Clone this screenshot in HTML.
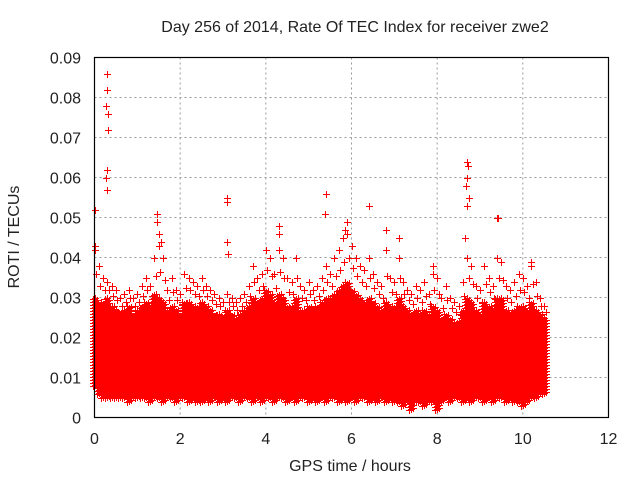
<!DOCTYPE html>
<html><head><meta charset="utf-8"><style>
body{margin:0;background:#fff}
svg text{font-family:"Liberation Sans",sans-serif;fill:#222}
</style></head><body>
<svg id="chart" width="640" height="480" viewBox="0 0 640 480" xmlns="http://www.w3.org/2000/svg">
<rect width="640" height="480" fill="#fff"/>
<text x="355" y="32" font-size="16" text-anchor="middle">Day 256 of 2014, Rate Of TEC Index for receiver zwe2</text>
<g id="grid"></g>
<g id="marks"></g>
<rect x="94.5" y="57.5" width="514" height="360" fill="none" stroke="#000" stroke-width="1.2"/>
<g id="ticks"></g>
<text x="350" y="471" font-size="16" text-anchor="middle">GPS time / hours</text>
<text transform="translate(19,237) rotate(-90)" font-size="16" text-anchor="middle">ROTI / TECUs</text>
</svg>
<script>
const xTicks=[0,2,4,6,8,10,12];
const yTicks=[0,0.01,0.02,0.03,0.04,0.05,0.06,0.07,0.08,0.09];
const yTickLabels=["0","0.01","0.02","0.03","0.04","0.05","0.06","0.07","0.08","0.09"];
const binTimes=[];for(let i=0;i<=105;i++)binTimes.push(i/10);
const denseHi=[0.030,0.028,0.029,0.030,0.028,0.027,0.026,0.027,0.028,0.026,0.027,0.028,0.029,0.028,0.031,0.030,0.029,0.027,0.028,0.027,0.026,0.029,0.029,0.028,0.028,0.029,0.028,0.027,0.026,0.026,0.025,0.027,0.026,0.025,0.026,0.027,0.028,0.030,0.029,0.030,0.032,0.031,0.029,0.031,0.030,0.028,0.028,0.030,0.027,0.027,0.028,0.027,0.028,0.029,0.030,0.030,0.031,0.032,0.033,0.034,0.032,0.031,0.030,0.029,0.030,0.029,0.028,0.027,0.029,0.028,0.028,0.030,0.028,0.027,0.026,0.027,0.026,0.027,0.026,0.028,0.027,0.025,0.026,0.025,0.024,0.024,0.027,0.030,0.029,0.027,0.026,0.029,0.028,0.027,0.030,0.030,0.027,0.026,0.027,0.028,0.028,0.027,0.029,0.027,0.026,0.025];
const sparseHi=[0.042,0.038,0.035,0.034,0.033,0.032,0.030,0.031,0.032,0.030,0.031,0.033,0.035,0.033,0.040,0.043,0.040,0.032,0.035,0.032,0.031,0.036,0.035,0.034,0.033,0.035,0.033,0.032,0.031,0.030,0.029,0.031,0.030,0.029,0.030,0.031,0.033,0.038,0.035,0.036,0.042,0.040,0.036,0.042,0.040,0.035,0.034,0.040,0.033,0.032,0.034,0.032,0.033,0.035,0.038,0.036,0.040,0.042,0.045,0.046,0.043,0.040,0.038,0.037,0.040,0.036,0.034,0.033,0.042,0.035,0.034,0.040,0.034,0.032,0.031,0.033,0.032,0.034,0.031,0.036,0.035,0.030,0.033,0.030,0.029,0.028,0.034,0.040,0.038,0.033,0.032,0.038,0.035,0.033,0.040,0.039,0.033,0.032,0.034,0.036,0.035,0.033,0.038,0.034,0.030,0.028];
const denseLo=[0.008,0.006,0.005,0.005,0.005,0.005,0.005,0.005,0.004,0.005,0.005,0.005,0.005,0.004,0.005,0.005,0.004,0.005,0.005,0.004,0.005,0.005,0.004,0.005,0.004,0.004,0.005,0.004,0.005,0.004,0.005,0.004,0.005,0.005,0.004,0.005,0.005,0.004,0.005,0.004,0.005,0.005,0.004,0.005,0.005,0.004,0.005,0.004,0.005,0.005,0.004,0.005,0.004,0.005,0.004,0.005,0.005,0.004,0.005,0.004,0.005,0.004,0.005,0.005,0.004,0.005,0.004,0.005,0.004,0.005,0.004,0.004,0.003,0.004,0.002,0.004,0.004,0.003,0.004,0.004,0.002,0.004,0.005,0.004,0.005,0.005,0.004,0.005,0.004,0.005,0.005,0.004,0.005,0.004,0.005,0.005,0.004,0.005,0.004,0.004,0.003,0.004,0.005,0.005,0.006,0.006];
const outlierT=[0.0,0.0,0.3,0.3,0.28,0.32,0.32,0.3,0.28,0.3,1.45,1.45,1.5,1.55,3.1,3.1,3.1,3.12,4.3,4.3,5.4,5.38,5.9,5.85,6.4,6.8,7.1,8.7,8.72,8.7,8.68,8.75,8.7,9.4,9.42,10.2,7.9,8.65];
const outlierV=[0.052,0.043,0.086,0.082,0.078,0.072,0.076,0.062,0.060,0.057,0.051,0.049,0.046,0.044,0.055,0.054,0.044,0.041,0.048,0.046,0.056,0.051,0.049,0.047,0.053,0.047,0.045,0.064,0.063,0.060,0.058,0.055,0.053,0.050,0.050,0.039,0.038,0.045];
const X=t=>94.5+t*(514/12);
const Y=v=>417.5-v*4000;
const ns="http://www.w3.org/2000/svg";
const grid=document.getElementById('grid'),ticks=document.getElementById('ticks'),marks=document.getElementById('marks');
xTicks.forEach(t=>{
 if(t>0&&t<12){const l=document.createElementNS(ns,'line');
 
 
 l.setAttribute('x1',X(t));l.setAttribute('x2',X(t));l.setAttribute('y1',57.5);l.setAttribute('y2',417.5);
 l.setAttribute('stroke','#999');l.setAttribute('stroke-dasharray','2,3');grid.appendChild(l);}
 const tx=document.createElementNS(ns,'text');
 
 
 tx.setAttribute('x',X(t));tx.setAttribute('y',444);tx.setAttribute('font-size','16');tx.setAttribute('text-anchor','middle');tx.textContent=t;ticks.appendChild(tx);
});
yTicks.forEach((v,i)=>{
 if(i>0&&i<yTicks.length-1){const l=document.createElementNS(ns,'line');
 
 
 l.setAttribute('x1',94.5);l.setAttribute('x2',608.5);l.setAttribute('y1',Y(v));l.setAttribute('y2',Y(v));
 l.setAttribute('stroke','#999');l.setAttribute('stroke-dasharray','2,3');grid.appendChild(l);}
 const tx=document.createElementNS(ns,'text');
 
 
 tx.setAttribute('x',81);tx.setAttribute('y',Y(v)+6);tx.setAttribute('font-size','16');tx.setAttribute('text-anchor','end');tx.textContent=yTickLabels[i];ticks.appendChild(tx);
});
let d='';
function plus(x,y){x=Math.round(x)+0.5;y=Math.round(y)+0.5;d+=`M${x-3.5} ${y}h7M${x} ${y-3.5}v7`;}
binTimes.forEach((t,i)=>{
 const x=X(t),yLo=Y(denseLo[i]),yHi=Y(denseHi[i]);
 [-2,0,2].forEach((o,k)=>{for(let y=yLo-k;y>=yHi;y-=3)plus(x+o,y);});
 const ySp=Y(sparseHi[i]);
 plus(x,ySp);plus(x+1.5,(ySp+yHi)/2);
});
outlierT.forEach((t,i)=>plus(X(t),Y(outlierV[i])));
const p=document.createElementNS(ns,'path');


p.setAttribute('d',d);p.setAttribute('stroke','#f00');p.setAttribute('stroke-width','1');p.setAttribute('fill','none');p.setAttribute('shape-rendering','crispEdges');
marks.appendChild(p);
</script>
</body></html>
